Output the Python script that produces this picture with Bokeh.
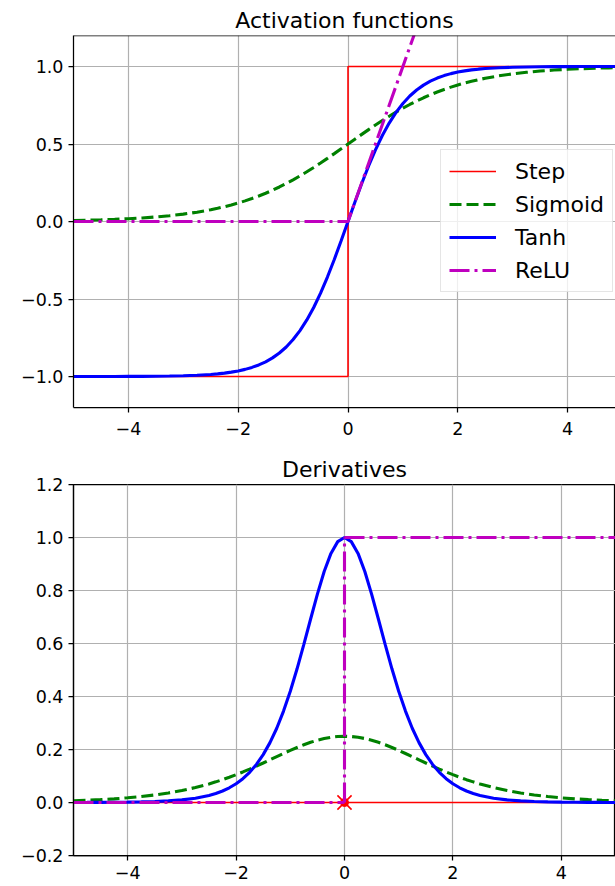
from bokeh.plotting import figure
from bokeh.models import Range1d, FixedTicker, Legend, LegendItem, Span
from bokeh.layouts import column
from bokeh.embed import file_html
from bokeh.resources import INLINE

# ---------------- data ----------------
z = [-5.0, -4.75, -4.5, -4.25, -4.0, -3.75, -3.5, -3.25, -3.0, -2.75, -2.5, -2.375,
     -2.25, -2.125, -2.0, -1.875, -1.75, -1.625, -1.5, -1.375, -1.25, -1.125, -1.0,
     -0.875, -0.75, -0.625, -0.5, -0.375, -0.25, -0.125, 0.0, 0.125, 0.25, 0.375, 0.5,
     0.625, 0.75, 0.875, 1.0, 1.125, 1.25, 1.375, 1.5, 1.625, 1.75, 1.875, 2.0, 2.125,
     2.25, 2.375, 2.5, 2.75, 3.0, 3.25, 3.5, 3.75, 4.0, 4.25, 4.5, 4.75, 5.0]

sigmoid_y = [0.0067, 0.0086, 0.0110, 0.0140, 0.0180, 0.0230, 0.0293, 0.0374, 0.0474,
             0.0601, 0.0759, 0.0851, 0.0953, 0.1067, 0.1192, 0.1330, 0.1480, 0.1645,
             0.1824, 0.2018, 0.2227, 0.2451, 0.2689, 0.2942, 0.3208, 0.3486, 0.3775,
             0.4073, 0.4378, 0.4688, 0.5000, 0.5312, 0.5622, 0.5927, 0.6225, 0.6514,
             0.6792, 0.7058, 0.7311, 0.7549, 0.7773, 0.7982, 0.8176, 0.8355, 0.8520,
             0.8670, 0.8808, 0.8933, 0.9047, 0.9149, 0.9241, 0.9399, 0.9526, 0.9626,
             0.9707, 0.9770, 0.9820, 0.9860, 0.9890, 0.9914, 0.9933]

tanh_y = [-0.9999, -0.9999, -0.9998, -0.9996, -0.9993, -0.9989, -0.9982, -0.9970,
          -0.9951, -0.9919, -0.9866, -0.9828, -0.9780, -0.9719, -0.9640, -0.9540,
          -0.9414, -0.9253, -0.9051, -0.8799, -0.8483, -0.8095, -0.7616, -0.7039,
          -0.6351, -0.5546, -0.4621, -0.3584, -0.2449, -0.1244, 0.0, 0.1244, 0.2449,
          0.3584, 0.4621, 0.5546, 0.6351, 0.7039, 0.7616, 0.8095, 0.8483, 0.8799,
          0.9051, 0.9253, 0.9414, 0.9540, 0.9640, 0.9719, 0.9780, 0.9828, 0.9866,
          0.9919, 0.9951, 0.9970, 0.9982, 0.9989, 0.9993, 0.9996, 0.9998, 0.9999,
          0.9999]

step_x = [-5.0, 0.0, 0.0, 5.0]
step_y = [-1.0, -1.0, 1.0, 1.0]
relu_x = [-5.0, 0.0, 5.0]
relu_y = [0.0, 0.0, 5.0]

d_sigmoid_y = [0.0066, 0.0085, 0.0109, 0.0138, 0.0177, 0.0225, 0.0285, 0.0360, 0.0452,
               0.0565, 0.0701, 0.0779, 0.0862, 0.0953, 0.1050, 0.1153, 0.1261, 0.1374,
               0.1491, 0.1611, 0.1731, 0.1850, 0.1966, 0.2076, 0.2179, 0.2271, 0.2350,
               0.2414, 0.2461, 0.2490, 0.2500, 0.2490, 0.2461, 0.2414, 0.2350, 0.2271,
               0.2179, 0.2076, 0.1966, 0.1850, 0.1731, 0.1611, 0.1491, 0.1374, 0.1261,
               0.1153, 0.1050, 0.0953, 0.0862, 0.0779, 0.0701, 0.0565, 0.0452, 0.0360,
               0.0285, 0.0225, 0.0177, 0.0138, 0.0109, 0.0085, 0.0066]

d_tanh_y = [0.0002, 0.0003, 0.0005, 0.0008, 0.0013, 0.0022, 0.0036, 0.0060, 0.0099,
            0.0161, 0.0266, 0.0340, 0.0435, 0.0555, 0.0707, 0.0898, 0.1138, 0.1437,
            0.1807, 0.2259, 0.2803, 0.3450, 0.4200, 0.5045, 0.5966, 0.6924, 0.7864,
            0.8716, 0.9400, 0.9845, 1.0000, 0.9845, 0.9400, 0.8716, 0.7864, 0.6924,
            0.5966, 0.5045, 0.4200, 0.3450, 0.2803, 0.2259, 0.1807, 0.1437, 0.1138,
            0.0898, 0.0707, 0.0555, 0.0435, 0.0340, 0.0266, 0.0161, 0.0099, 0.0060,
            0.0036, 0.0022, 0.0013, 0.0008, 0.0005, 0.0003, 0.0002]

d_step_x = [-5.0, 5.0]
d_step_y = [0.0, 0.0]
d_point_x = [0.0]
d_point_y = [0.0]
d_relu_xs = [[-5.0, 0.0], [0.0, 0.0], [0.0, 5.0]]
d_relu_ys = [[0.0, 0.0], [0.0, 1.0], [1.0, 1.0]]

legend_labels = ["Step", "Sigmoid", "Tanh", "ReLU"]
titles = ["Activation functions", "Derivatives"]

x_ticks = [-4, -2, 0, 2, 4]
x_tick_labels = ["\u22124", "\u22122", "0", "2", "4"]
top_y_ticks = [-1.0, -0.5, 0.0, 0.5, 1.0]
top_y_labels = ["\u22121.0", "\u22120.5", "0.0", "0.5", "1.0"]
bot_y_ticks = [-0.2, 0.0, 0.2, 0.4, 0.6, 0.8, 1.0, 1.2]
bot_y_labels = ["\u22120.2", "0.0", "0.2", "0.4", "0.6", "0.8", "1.0", "1.2"]

# ---------------- styles ----------------
FONT = "DejaVu Sans"
RED, GREEN, BLUE, MAG = "#ff0000", "#008000", "#0000ff", "#bf00bf"
THIN, THICK = 1.6, 3.1
DASH = "12 5"
DASHDOT = "20 5 3 5"


def style(p, yticks, ylabels, title, x_standoff):
    p.title.text = title
    p.title.text_font = FONT
    p.title.text_font_size = "22px"
    p.title.text_font_style = "normal"
    p.title.text_color = "black"
    p.title.align = "center"
    p.title.standoff = 5
    p.background_fill_color = "white"
    p.border_fill_color = "white"
    for ax in (p.xaxis[0], p.yaxis[0]):
        ax.axis_line_color = "black"
        ax.axis_line_width = 1.25
        ax.major_tick_line_color = "black"
        ax.major_tick_line_width = 1.25
        ax.major_tick_in = 0
        ax.major_tick_out = 5
        ax.minor_tick_line_color = None
        ax.major_label_text_font = FONT
        ax.major_label_text_font_size = "17.5px"
        ax.major_label_text_color = "black"
        ax.major_label_standoff = 5
    p.xaxis[0].major_label_standoff = x_standoff
    p.xaxis[0].ticker = FixedTicker(ticks=x_ticks)
    p.xaxis[0].major_label_overrides = dict(zip(x_ticks, x_tick_labels))
    p.yaxis[0].ticker = FixedTicker(ticks=yticks)
    p.yaxis[0].major_label_overrides = dict(zip(yticks, ylabels))
    for g in (p.xgrid[0], p.ygrid[0]):
        g.grid_line_color = "#b0b0b0"
        g.grid_line_width = 1.2


# ---------------- top figure ----------------
p1 = figure(width=615, height=446, output_backend="svg", toolbar_location=None,
            x_range=Range1d(-5, 4.872), y_range=Range1d(-1.2, 1.2),
            min_border_left=73, min_border_right=0, min_border_top=35,
            min_border_bottom=39)
style(p1, top_y_ticks, top_y_labels, titles[0], 9)
p1.outline_line_color = None
p1.add_layout(Span(location=1.2, dimension="width", line_color="black", line_width=1.25))

r_step = p1.line(step_x, step_y, line_color=RED, line_width=THIN)
r_sig = p1.line(z, sigmoid_y, line_color=GREEN, line_width=THICK, line_dash=DASH)
r_tanh = p1.line(z, tanh_y, line_color=BLUE, line_width=THICK)
r_relu = p1.line(relu_x, relu_y, line_color=MAG, line_width=THICK, line_dash=DASHDOT)

legend = Legend(items=[LegendItem(label=lab, renderers=[r]) for lab, r in
                       zip(legend_labels, [r_step, r_sig, r_tanh, r_relu])],
                location=(367, 115))
legend.label_text_font = FONT
legend.label_text_font_size = "22px"
legend.label_text_color = "black"
legend.label_height = 26
legend.glyph_height = 26
legend.glyph_width = 47
legend.label_standoff = 19
legend.spacing = 7
legend.padding = 8
legend.margin = 0
legend.border_line_color = "#cccccc"
legend.border_line_width = 1
legend.background_fill_color = "white"
legend.background_fill_alpha = 0.8
p1.add_layout(legend)

# ---------------- bottom figure ----------------
p2 = figure(width=615, height=440, output_backend="svg", toolbar_location=None,
            x_range=Range1d(-5, 5), y_range=Range1d(-0.2, 1.2),
            min_border_left=66, min_border_right=0, min_border_top=38,
            min_border_bottom=31)
style(p2, bot_y_ticks, bot_y_labels, titles[1], 5)
p2.outline_line_color = "black"
p2.outline_line_width = 1.25
p2.outline_line_alpha = 1.0

p2.line(d_step_x, d_step_y, line_color=RED, line_width=THIN)
p2.scatter(d_point_x, d_point_y, marker="circle", size=8, fill_color=RED, line_color=RED)
p2.scatter(d_point_x, d_point_y, marker="x", size=20, line_color=RED, line_width=1.6)
p2.line(z, d_sigmoid_y, line_color=GREEN, line_width=THICK, line_dash=DASH)
p2.line(z, d_tanh_y, line_color=BLUE, line_width=THICK)
for xs, ys in zip(d_relu_xs, d_relu_ys):
    p2.line(xs, ys, line_color=MAG, line_width=THICK, line_dash=DASHDOT)

layout = column(p1, p2, spacing=0)
open("out.html", "w").write(file_html(layout, INLINE))
